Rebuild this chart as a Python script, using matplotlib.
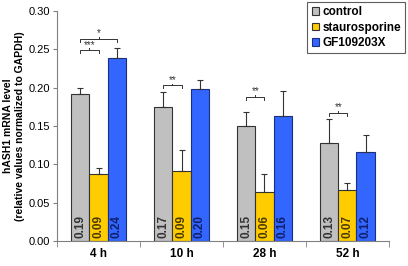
import numpy as np
import matplotlib
matplotlib.use("Agg")
from matplotlib import pyplot as plt

plt.rcParams['font.family'] = ['Liberation Sans', 'DejaVu Sans']

times = ['4 h', '10 h', '28 h', '52 h']
series = ['control', 'staurosporine', 'GF109203X']
control = [0.192, 0.175, 0.150, 0.128]
stauro = [0.088, 0.091, 0.064, 0.066]
gf = [0.239, 0.198, 0.163, 0.116]
control_err = [0.008, 0.019, 0.018, 0.031]
stauro_err = [0.007, 0.027, 0.023, 0.009]
gf_err = [0.012, 0.012, 0.032, 0.022]
value_labels = [['0.19', '0.17', '0.15', '0.13'],
                ['0.09', '0.09', '0.06', '0.07'],
                ['0.24', '0.20', '0.16', '0.12']]
# significance: (group, bar a, bar b, height, stars)
sig = [(0, 0, 1, 0.249, '***'), (0, 0, 2, 0.264, '*'),
       (1, 0, 1, 0.203, '**'), (2, 0, 1, 0.188, '**'),
       (3, 0, 1, 0.167, '**')]

colors = ['#C0C0C0', '#FFCC00', '#3366FF']
edges = ['#333333', '#333333', '#1a2f80']
text_colors = ['#333333', '#4a3a00', '#10206a']

fig = plt.figure(figsize=(4.08, 2.66), dpi=100)
ax = fig.add_axes([0.140, 0.094, 0.813, 0.865])

x = np.arange(len(times))
w = 0.22
offs = [-w, 0, w]
vals = [control, stauro, gf]
errs = [control_err, stauro_err, gf_err]
for i in range(3):
    ax.bar(x + offs[i], vals[i], w, color=colors[i], edgecolor=edges[i],
           linewidth=0.8, label=series[i], zorder=2)
    ax.errorbar(x + offs[i], vals[i], yerr=[np.zeros(4), errs[i]], fmt='none',
                ecolor='#333333', elinewidth=0.8, capsize=2.5, capthick=0.8, zorder=3)
    for j in range(4):
        ax.text(x[j] + offs[i], 0.004, value_labels[i][j], rotation=90,
                ha='center', va='bottom', fontsize=8.5, fontweight='bold',
                color=text_colors[i], zorder=4)

for g, a, b, h, s in sig:
    xa = x[g] + offs[a]
    xb = x[g] + offs[b]
    xm = (xa + xb) / 2
    ax.plot([xa, xa, xb, xb], [h - 0.004, h, h, h - 0.004], color='#333333', lw=0.7)
    ax.plot([xm, xm], [h, h + 0.002], color='#333333', lw=0.7)
    ax.text(xm, h + 0.0005, s, ha='center', va='bottom', fontsize=7, color='#333333')

ax.set_xlim(-0.5, 3.5)
ax.set_ylim(0, 0.30)
ax.set_yticks(np.arange(0, 0.301, 0.05))
ax.set_yticklabels(['%.2f' % v for v in np.arange(0, 0.301, 0.05)], fontsize=8)
ax.set_xticks(x)
ax.set_xticklabels(times, fontsize=8.5, fontweight='bold')
ax.tick_params(axis='x', length=0, pad=5)
ax.set_xticks(np.arange(-0.5, 3.6, 1), minor=True)
ax.tick_params(axis='x', which='minor', length=4, color='#808080')
ax.tick_params(axis='y', length=3, color='#808080', pad=2)
for sp in ['top', 'right']:
    ax.spines[sp].set_visible(False)
for sp in ['left', 'bottom']:
    ax.spines[sp].set_color('#808080')
ax.set_ylabel('hASH1 mRNA level\n(relative values normalized to GAPDH)',
              fontsize=7.5, fontweight='bold', labelpad=3)

leg = fig.legend(loc='upper right', bbox_to_anchor=(405 / 408, 1 - 2 / 266),
                 prop={'weight': 'bold', 'size': 8.5}, frameon=True, fancybox=False,
                 handlelength=0.6, handleheight=0.6, handletextpad=0.3,
                 borderpad=0.35, labelspacing=0.3, borderaxespad=0)
leg.get_frame().set_edgecolor('#333333')
leg.get_frame().set_linewidth(0.8)

plt.savefig('out.png', dpi=100)
